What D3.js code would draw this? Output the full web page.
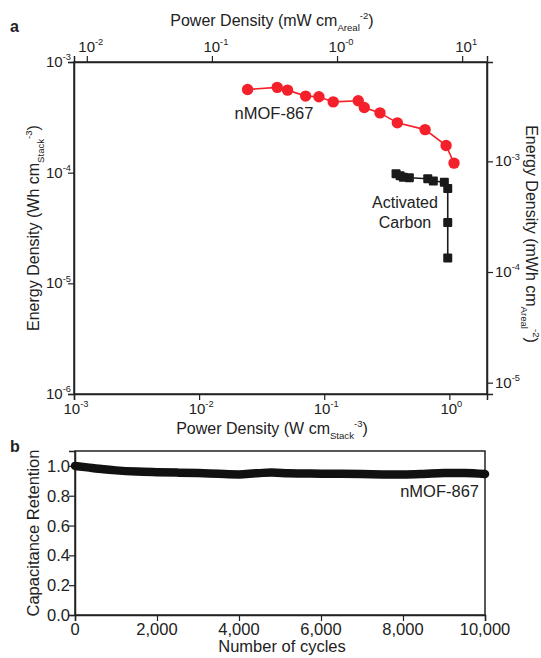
<!DOCTYPE html>
<html>
<head>
<meta charset="utf-8">
<title>Ragone plot and cycling</title>
<script src="https://d3js.org/d3.v7.min.js"></script>
<style>
  body { margin: 0; background: #fff; }
  text { font-family: "Liberation Sans", Arial, sans-serif; fill: #222; }
</style>
</head>
<body>
<script>
// nMOF-867 Ragone data (W cm-3 stack, Wh cm-3 stack)
const mofPower  = [0.0244, 0.0421, 0.0509, 0.0710, 0.0907, 0.118, 0.187, 0.209, 0.279, 0.384, 0.640, 0.942, 1.09];
const mofEnergy = [5.65e-4, 5.9e-4, 5.57e-4, 4.92e-4, 4.85e-4, 4.36e-4, 4.46e-4, 3.88e-4, 3.47e-4, 2.82e-4, 2.45e-4, 1.76e-4, 1.22e-4];
// activated carbon
const acPower  = [0.375, 0.404, 0.429, 0.479, 0.672, 0.745, 0.912, 0.971, 0.971, 0.971];
const acEnergy = [9.8e-5, 9.4e-5, 9.1e-5, 9.0e-5, 8.8e-5, 8.4e-5, 8.2e-5, 7.2e-5, 3.54e-5, 1.69e-5];
// cycling stability
const cycles    = [0, 300, 700, 1000, 1500, 2000, 2500, 3000, 3500, 4000, 4400, 4800, 5200, 6000, 7000, 7500, 8000, 8500, 9000, 9500, 10000];
const retention = [1.0, 0.99, 0.977, 0.97, 0.962, 0.958, 0.955, 0.952, 0.947, 0.943, 0.95, 0.955, 0.951, 0.948, 0.945, 0.943, 0.942, 0.946, 0.953, 0.952, 0.945];

const bottomExp = [-3, -2, -1, 0];
const topExp    = ["-2", "-1", "-0", "1"];
const leftExp   = [-3, -4, -5, -6];
const rightExp  = [-3, -4, -5];
const cycleTicks = [0, 2000, 4000, 6000, 8000, 10000];
const retTicks   = [0, 0.2, 0.4, 0.6, 0.8, 1.0];

const areal = 7.9; // stack -> areal conversion factor

const W = 541, H = 658;
const svg = d3.select("body").append("svg").attr("width", W).attr("height", H);

// ---------- panel a ----------
const a = {l: 74, r: 487, t: 62, b: 394};
const x = d3.scaleLog().domain([1e-3, 2]).range([a.l, a.r]);
const xTop = d3.scaleLog().domain([1e-3 * areal, 2 * areal]).range([a.l, a.r]);
const y = d3.scaleLog().domain([1e-6, 1e-3]).range([a.b, a.t]);
const yRight = d3.scaleLog().domain([1e-6 * areal, 1e-3 * areal]).range([a.b, a.t]);

function logMinors(scale) {
  const [d0, d1] = scale.domain();
  const out = [];
  for (let e = Math.floor(Math.log10(d0)); e <= Math.ceil(Math.log10(d1)); e++) {
    for (let m = 2; m <= 9; m++) {
      const v = m * Math.pow(10, e);
      if (v >= d0 && v <= d1) out.push(v);
    }
  }
  return out;
}

function powLabel(sel, base, exp, size) {
  sel.append("tspan").text(base);
  sel.append("tspan").attr("dy", -size * 0.45).attr("font-size", size * 0.62).text(exp);
}

function drawAxis(g, axisFn, scale, majors, minors) {
  g.call(axisFn(scale).tickValues(minors).tickSize(3.5).tickFormat(""));
  g.call(axisFn(scale).tickValues(majors).tickSize(6).tickFormat(""));
  g.selectAll("path.domain").attr("stroke", "#222").attr("stroke-width", 1.5);
  g.selectAll(".tick line").attr("stroke", "#222").attr("stroke-width", 1.2);
}

// frame
svg.append("rect").attr("x", a.l).attr("y", a.t).attr("width", a.r - a.l).attr("height", a.b - a.t)
  .attr("fill", "none").attr("stroke", "#222").attr("stroke-width", 1.5);

const gxB = svg.append("g").attr("transform", `translate(0,${a.b})`);
drawAxis(gxB, d3.axisBottom, x, bottomExp.map(e => Math.pow(10, e)), logMinors(x));
const gxT = svg.append("g").attr("transform", `translate(0,${a.t})`);
drawAxis(gxT, d3.axisTop, xTop, topExp.map(e => Math.pow(10, +e)), logMinors(xTop));
const gyL = svg.append("g").attr("transform", `translate(${a.l},0)`);
drawAxis(gyL, d3.axisLeft, y, leftExp.map(e => Math.pow(10, e)), logMinors(y));
const gyR = svg.append("g").attr("transform", `translate(${a.r},0)`);
drawAxis(gyR, d3.axisRight, yRight, rightExp.map(e => Math.pow(10, e)), logMinors(yRight));

const fs = 15;
bottomExp.forEach(e => {
  const t = svg.append("text").attr("x", x(Math.pow(10, e)) + 2).attr("y", a.b + 20)
    .attr("text-anchor", "middle").attr("font-size", fs);
  powLabel(t, "10", e, fs);
});
topExp.forEach(e => {
  const t = svg.append("text").attr("x", xTop(Math.pow(10, +e)) + 4).attr("y", a.t - 10)
    .attr("text-anchor", "middle").attr("font-size", fs);
  powLabel(t, "10", e, fs);
});
leftExp.forEach(e => {
  const t = svg.append("text").attr("x", a.l - 3).attr("y", y(Math.pow(10, e)) + 5)
    .attr("text-anchor", "end").attr("font-size", fs);
  powLabel(t, "10", e, fs);
});
rightExp.forEach(e => {
  const t = svg.append("text").attr("x", a.r + 8).attr("y", yRight(Math.pow(10, e)) + 5)
    .attr("font-size", fs);
  powLabel(t, "10", e, fs);
});

// titles with sub/superscripts
function subSupTitle(t, pre, sub, sup, size) {
  t.append("tspan").text(pre);
  t.append("tspan").attr("dy", size * 0.3).attr("font-size", size * 0.6).text(sub);
  t.append("tspan").attr("dy", -size * 0.75).attr("font-size", size * 0.6).text(sup);
  t.append("tspan").attr("dy", size * 0.45).text(")");
}
const ts = 16;
subSupTitle(svg.append("text").attr("x", 272).attr("y", 26).attr("text-anchor", "middle").attr("font-size", ts),
  "Power Density (mW cm", "Areal", "-2", ts);
subSupTitle(svg.append("text").attr("x", 272).attr("y", 434).attr("text-anchor", "middle").attr("font-size", ts),
  "Power Density (W cm", "Stack", "-3", ts);
subSupTitle(svg.append("text").attr("transform", `translate(39,${(a.t + a.b) / 2}) rotate(-90)`)
  .attr("text-anchor", "middle").attr("font-size", ts), "Energy Density (Wh cm", "Stack", "-3", ts);
subSupTitle(svg.append("text").attr("transform", `translate(526,${(a.t + a.b) / 2 + 6}) rotate(90)`)
  .attr("text-anchor", "middle").attr("font-size", ts), "Energy Density (mWh cm", "Areal", "-2", ts);

svg.append("text").attr("x", 10).attr("y", 32).attr("font-size", 16).attr("font-weight", "bold").text("a");

// series
const mof = mofPower.map((p, i) => [p, mofEnergy[i]]);
const ac = acPower.map((p, i) => [p, acEnergy[i]]);
const line = d3.line().x(d => x(d[0])).y(d => y(d[1]));

svg.append("path").datum(mof).attr("d", line).attr("fill", "none").attr("stroke", "#f5212a").attr("stroke-width", 1.6);
svg.selectAll("circle.mof").data(mof).enter().append("circle").attr("class", "mof")
  .attr("cx", d => x(d[0])).attr("cy", d => y(d[1])).attr("r", 5.7).attr("fill", "#f5212a");

svg.append("path").datum(ac).attr("d", line).attr("fill", "none").attr("stroke", "#1a1a1a").attr("stroke-width", 1.6);
svg.selectAll("rect.ac").data(ac).enter().append("rect").attr("class", "ac")
  .attr("x", d => x(d[0]) - 4.5).attr("y", d => y(d[1]) - 4.5).attr("width", 9).attr("height", 9)
  .attr("rx", 1).attr("fill", "#1a1a1a");

svg.append("text").attr("x", 274).attr("y", 119).attr("text-anchor", "middle").attr("font-size", 16.5).text("nMOF-867");
svg.append("text").attr("x", 405).attr("y", 208).attr("text-anchor", "middle").attr("font-size", 16).text("Activated");
svg.append("text").attr("x", 405).attr("y", 228).attr("text-anchor", "middle").attr("font-size", 16).text("Carbon");

// ---------- panel b ----------
const b = {l: 75, r: 485, t: 451, b: 615};
const xc = d3.scaleLinear().domain([0, 10000]).range([b.l, b.r]);
const yc = d3.scaleLinear().domain([0, 1.1]).range([b.b, b.t]);

svg.append("rect").attr("x", b.l).attr("y", b.t).attr("width", b.r - b.l).attr("height", b.b - b.t)
  .attr("fill", "none").attr("stroke", "#222").attr("stroke-width", 1.5);

const gcx = svg.append("g").attr("transform", `translate(0,${b.b})`);
drawAxis(gcx, d3.axisBottom, xc, cycleTicks, d3.range(1000, 10000, 2000));
const gcy = svg.append("g").attr("transform", `translate(${b.l},0)`);
drawAxis(gcy, d3.axisLeft, yc, retTicks, d3.range(0.1, 1.1, 0.2));

const bs = 16.5;
cycleTicks.forEach(v => {
  svg.append("text").attr("x", xc(v)).attr("y", b.b + 20).attr("text-anchor", "middle")
    .attr("font-size", bs).text(d3.format(",")(v));
});
retTicks.forEach(v => {
  svg.append("text").attr("x", b.l - 5).attr("y", yc(v) + 6).attr("text-anchor", "end")
    .attr("font-size", bs).text(v.toFixed(1));
});
svg.append("text").attr("x", 282).attr("y", 652).attr("text-anchor", "middle").attr("font-size", bs).text("Number of cycles");
svg.append("text").attr("transform", `translate(39,${(b.t + b.b) / 2}) rotate(-90)`).attr("text-anchor", "middle")
  .attr("font-size", bs).text("Capacitance Retention");
svg.append("text").attr("x", 10).attr("y", 452).attr("font-size", 16).attr("font-weight", "bold").text("b");

const cyc = cycles.map((c, i) => [c, retention[i]]);
svg.append("path").datum(cyc)
  .attr("d", d3.line().curve(d3.curveMonotoneX).x(d => xc(d[0])).y(d => yc(d[1])))
  .attr("fill", "none").attr("stroke", "#111").attr("stroke-width", 8.5).attr("stroke-linecap", "round");

svg.append("text").attr("x", 479).attr("y", 497).attr("text-anchor", "end").attr("font-size", bs).text("nMOF-867");
</script>
</body>
</html>
